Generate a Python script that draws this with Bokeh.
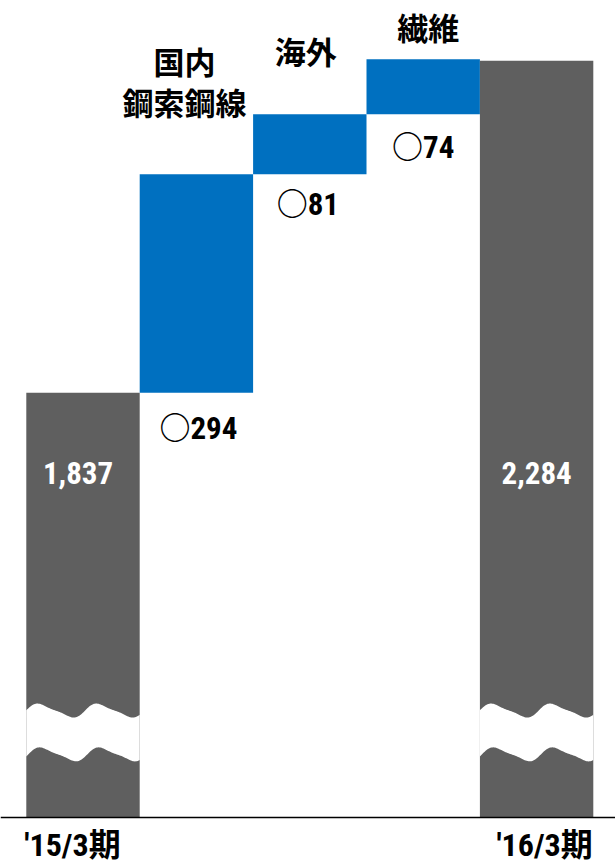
import numpy as np
from bokeh.plotting import figure
from bokeh.models import Range1d, Span, ColumnDataSource
from bokeh.core.properties import value
from bokeh.embed import file_html
from bokeh.resources import INLINE

# ---- data ----
categories = ["'15/3期", "国内\n鋼索鋼線", "海外", "繊維", "'16/3期"]
start_value = 1837
deltas = [294, 81, 74]
end_value = 2284
total_labels = ["1,837", "2,284"]
delta_labels = ["○294", "○81", "○74"]
axis_floor = 1265          # value at the (broken) baseline
break_band = [1350, 1409]  # values covered by the axis-break band

# ---- layout ----
W, H = 615, 864
PX = 0.7427                # px per unit
bar_step = 113.4
x0 = -82.5 / bar_step
x1 = x0 + W / bar_step
y0 = axis_floor - 47 / PX
y1 = y0 + H / PX

GRAY = "#5f5f5f"
BLUE = "#0070c0"
NUM_FONT = "Roboto Condensed, Noto Sans CJK JP"
JP_FONT = "Noto Sans CJK JP"

p = figure(width=W, height=H, output_backend="svg", toolbar_location=None,
           x_range=Range1d(x0, x1), y_range=Range1d(y0, y1),
           x_axis_location=None, y_axis_location=None, min_border=0,
           outline_line_color=None, background_fill_color="white",
           border_fill_color="white")
p.grid.visible = False

# waterfall geometry from data
n = len(categories)
xs = list(range(n))
bottoms = [axis_floor]
tops = [start_value]
cum = start_value
for d in deltas:
    bottoms.append(cum)
    cum += d
    tops.append(cum)
bottoms.append(axis_floor)
tops.append(end_value)
colors = [GRAY] + [BLUE] * len(deltas) + [GRAY]

p.vbar(x=xs, bottom=bottoms, top=tops, width=1.0, fill_color=colors,
       line_color=None)

# axis break (wavy white band) on the total bars
def wave(t):
    th = 2 * np.pi * (t - 0.097) / 0.52 + 1.195
    return (np.sin(th) + 0.25 * np.sin(2 * th)) / 1.10

amp = 7 / PX
bxs, bys = [], []
for i in (0, n - 1):
    t = np.linspace(0, 1, 120)
    top_edge = break_band[1] + amp * wave(t)
    bot_edge = break_band[0] + amp * wave(t - 0.02)
    bx = np.concatenate([i - 0.5 + t, (i - 0.5 + t)[::-1]])
    by = np.concatenate([top_edge, bot_edge[::-1]])
    bxs.append(list(bx))
    bys.append(list(by))
p.patches(xs=bxs, ys=bys, fill_color="white", line_color=None)

# baseline
p.add_layout(Span(location=axis_floor, dimension="width", line_color="black",
                  line_width=1.5))

# totals inside gray bars
label_y = axis_floor + (817 - 472) / PX
src_t = ColumnDataSource(dict(x=[0, n - 1], y=[label_y, label_y],
                              t=total_labels, xo=[-5, 0]))
p.text(x="x", y="y", text="t", x_offset="xo", source=src_t,
       text_color="white", text_font=value(NUM_FONT), text_font_size="31px",
       text_font_style="bold", text_align="center", text_baseline="middle")

# delta labels below blue bars
src_d = ColumnDataSource(dict(x=xs[1:-1], y=bottoms[1:-1], t=delta_labels,
                              xo=[2, -2, 0], yo=[36, 30, 33]))
p.text(x="x", y="y", text="t", x_offset="xo", y_offset="yo", source=src_d,
       text_color="black", text_font=value(NUM_FONT), text_font_size="31px",
       text_font_style="bold", text_align="center", text_baseline="middle")

# category labels above blue bars
src_c = ColumnDataSource(dict(x=xs[1:-1], y=tops[1:-1], t=categories[1:-1],
                              xo=[-12, -4, 5], yo=[-93.5, -64, -32.5]))
p.text(x="x", y="y", text="t", x_offset="xo", y_offset="yo", source=src_c,
       text_color="black", text_font=value(JP_FONT), text_font_size="31px",
       text_font_style="bold", text_align="center", text_baseline="middle",
       text_line_height=0.9)

# period labels under the axis
src_p = ColumnDataSource(dict(x=[0, n - 1], y=[axis_floor, axis_floor],
                              t=[categories[0], categories[-1]],
                              xo=[-10.5, 8]))
p.text(x="x", y="y", text="t", x_offset="xo", y_offset=27, source=src_p,
       text_color="black", text_font=value(NUM_FONT), text_font_size="32px",
       text_font_style="bold", text_align="center", text_baseline="middle")

open("out.html", "w").write(file_html(p, INLINE))
